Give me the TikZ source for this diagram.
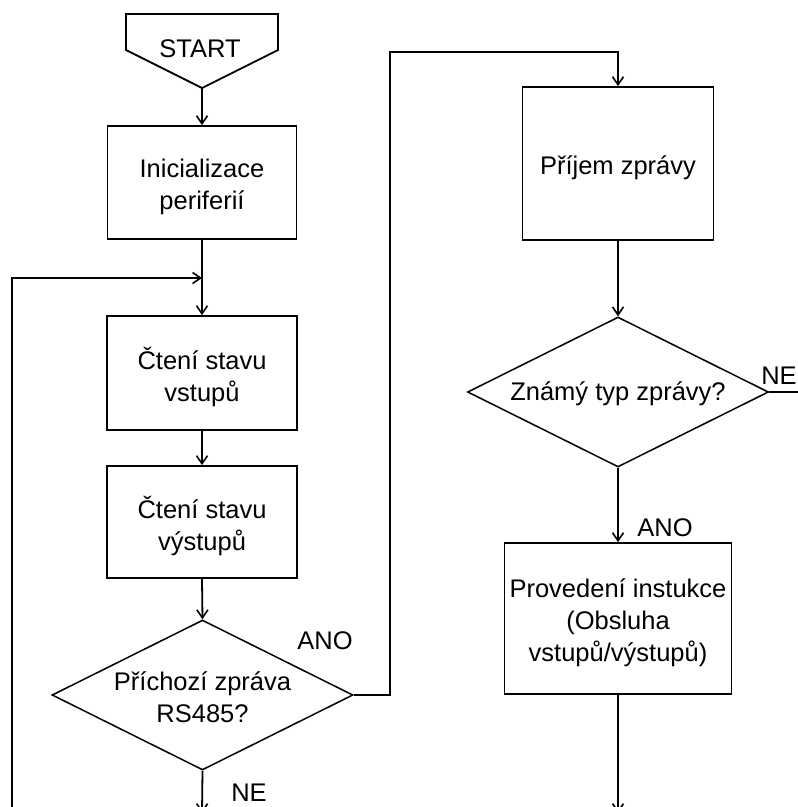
\documentclass[tikz,border=0pt]{standalone}
\usepackage{fontspec}
\setmainfont{Liberation Sans}
\usetikzlibrary{shapes.geometric,arrows.meta}
\begin{document}
\begin{tikzpicture}[x=1pt,y=-1pt,
  txt/.style={font=\fontsize{25.5}{32}\selectfont},
  flow/.style={line width=1.8pt, draw=black, line join=miter},
  arr/.style={flow, -{Straight Barb[length=8pt,width=11pt,line width=1.6pt]}},
  inner/.style={txt, align=center, inner sep=0pt, yshift=-4pt},
  procbox/.style={draw, line width=1.8pt, rectangle, inner sep=0pt,
    label={[inner]center:#1}},
  decision/.style={draw, line width=1.5pt, diamond, aspect=2, inner sep=0pt,
    minimum width=301pt, minimum height=150pt,
    label={[inner, yshift=2pt]center:#1}},
  lbl/.style={txt, inner sep=0pt}]
\useasboundingbox (0,0) rectangle (798,807);
\clip (0,0) rectangle (798,807);

% start terminal
\draw[line width=1.8pt, line join=miter] (126,14) -- (278,14) -- (278,50) -- (202,88) -- (126,50) -- cycle;
\node[lbl] (start) at (200,49) {START};
\coordinate (startTip) at (202,88);

% left column
\node[procbox={Inicializace\\periferií}, minimum width=189pt, minimum height=113pt] (init) at (202,182.5) {};
\node[procbox={Čtení stavu\\vstupů}, minimum width=190pt, minimum height=114pt] (readIn) at (202,373) {};
\node[procbox={Čtení stavu\\výstupů}, minimum width=190pt, minimum height=112pt] (readOut) at (202,522) {};
\node[decision={Příchozí zpráva\\RS485?}] (rs) at (202.5,695) {};

% right column
\node[procbox={Příjem zprávy}, minimum width=191pt, minimum height=153pt] (recv) at (618,163.5) {};
\node[decision={Známý typ zprávy?}] (known) at (618,392) {};
\node[procbox={Provedení instukce\\(Obsluha\\vstupů/výstupů)}, minimum width=227pt, minimum height=151pt] (exec) at (618,618.5) {};

% auxiliary points
\coordinate (merge) at (202,278);
\coordinate (loopEnd) at (12,820);
\coordinate (rsOut) at (202,813);
\coordinate (execOut) at (618,813);
\coordinate (neOut) at (805,392);

% connectors
\draw[arr] (startTip) -- (init.north);
\draw[arr] (init.south) -- (readIn.north);
\draw[arr] (loopEnd) |- (merge);
\draw[arr] (readIn.south) -- (readOut.north);
\draw[arr] (readOut.south) -- (rs.north);
\draw[arr] (rs.south) -- (rsOut);
\draw[arr] (rs.east) -- (390,695) -- (390,52) -- (618,52) -- (recv.north);
\draw[arr] (recv.south) -- (known.north);
\draw[flow] (known.east) -- (neOut);
\draw[arr] (known.south) -- (exec.north);
\draw[arr] (exec.south) -- (execOut);

% branch labels
\node[lbl] (rsYes) at (325,641) {ANO};
\node[lbl] (rsNo) at (249,793) {NE};
\node[lbl] (knownNo) at (779,376) {NE};
\node[lbl] (knownYes) at (665,528) {ANO};
\end{tikzpicture}
\end{document}
